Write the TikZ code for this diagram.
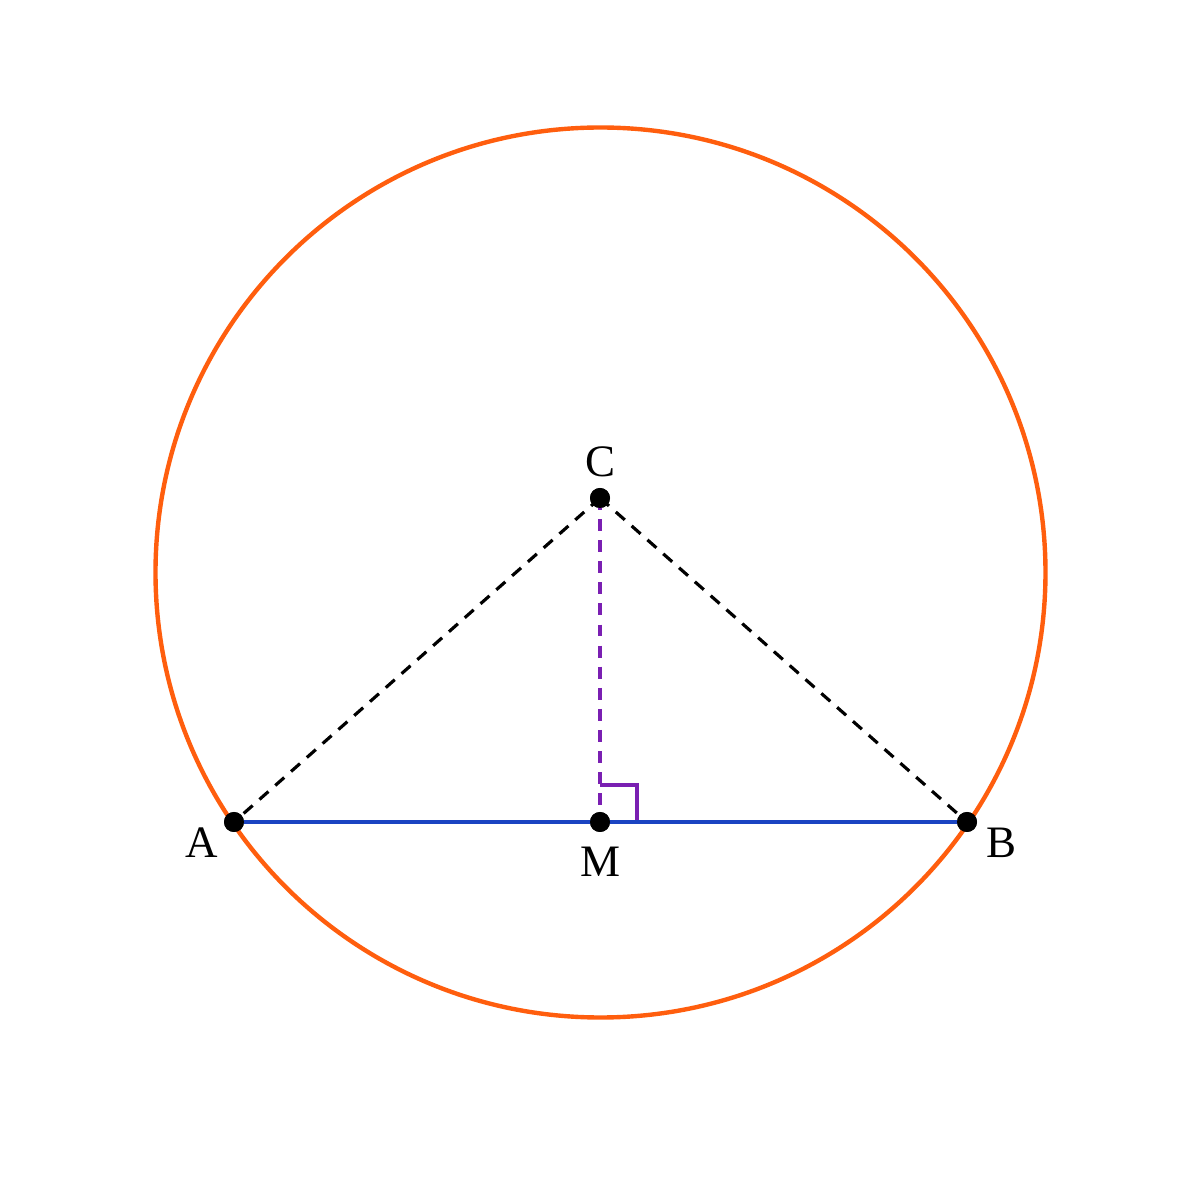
\documentclass[tikz,border=0pt]{standalone}
\usepackage{fontspec}
\setmainfont{Liberation Serif}
\usetikzlibrary{positioning,calc}
\definecolor{circorange}{HTML}{FF5E0E}
\definecolor{chordblue}{HTML}{1A44C2}
\definecolor{perppurple}{HTML}{7A1FB2}
\begin{document}
\begin{tikzpicture}[
    dot/.style={circle, fill=black, inner sep=0pt, minimum size=0.2cm},
    lbl/.style={font=\fontsize{12.8}{15}\selectfont, inner sep=0pt},
    dashline/.style={dash pattern=on 3.4pt off 2.6pt, line width=0.9pt}
  ]
    \useasboundingbox (0,0) rectangle (12,12);
    % circle
    \draw [circorange, line width=1.25pt] (6.005,6.275) circle (4.45cm);

    % points
    \node [dot] (A) at (2.34,3.78) {};
    \node [dot] (B) at (9.67,3.78) {};
    \node [dot] (M) at (6.00,3.78) {};
    \node [dot] (C) at (6.00,7.02) {};

    % segments
    \draw [dashline, black] (C.center) -- (A.center);
    \draw [dashline, black] (C.center) -- (B.center);
    \draw [dashline, perppurple, line width=1.05pt] (C.center) -- (M.center);
    \draw [perppurple, line width=1.05pt] ($(M.center)+(0,0.37)$) -- ++(0.37,0) -- ++(0,-0.37);
    \draw [chordblue, line width=1.1pt] (A.center) -- (B.center);
    \node [dot] at (A) {};
    \node [dot] at (B) {};
    \node [dot] at (M) {};
    \node [dot] at (C) {};

    % labels
    \node [lbl] (labA) at (2.02,3.57) {A};
    \node [lbl] (labB) at (10.01,3.57) {B};
    \node [lbl] (labM) at (6.00,3.38) {M};
    \node [lbl] (labC) at (6.00,7.38) {C};
\end{tikzpicture}
\end{document}
